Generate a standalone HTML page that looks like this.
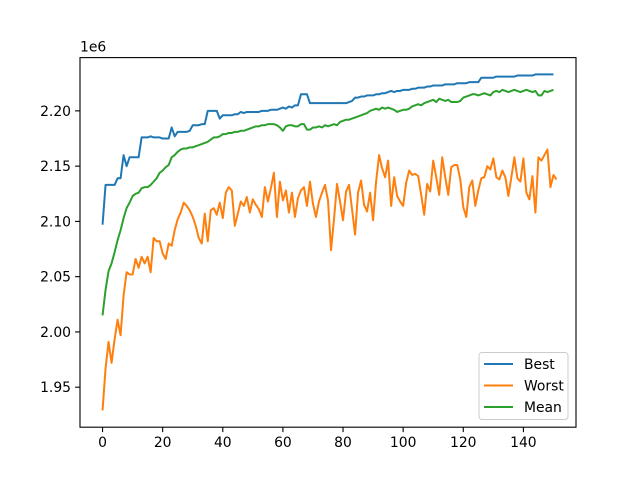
<!DOCTYPE html>
<html><head><meta charset="utf-8"><style>
body{margin:0;background:#fff;}
svg{display:block;font-family:"DejaVu Sans","Liberation Sans",sans-serif;}
</style></head><body>
<svg id="chart" width="640" height="480"></svg>
<script>
const best=[2.097,2.133,2.133,2.133,2.133,2.139,2.139,2.160,2.150,2.158,
2.158,2.158,2.158,2.176,2.176,2.176,2.177,2.176,2.176,2.176,
2.175,2.175,2.175,2.185,2.177,2.181,2.181,2.181,2.181,2.182,
2.187,2.187,2.187,2.188,2.188,2.200,2.200,2.200,2.200,2.193,
2.196,2.196,2.196,2.196,2.197,2.197,2.199,2.198,2.199,2.199,
2.199,2.199,2.199,2.200,2.200,2.200,2.201,2.201,2.201,2.202,
2.203,2.202,2.204,2.203,2.205,2.205,2.215,2.215,2.215,2.207,
2.207,2.207,2.207,2.207,2.207,2.207,2.207,2.207,2.207,2.207,
2.207,2.207,2.208,2.209,2.212,2.212,2.213,2.213,2.214,2.214,
2.214,2.215,2.215,2.216,2.216,2.217,2.218,2.217,2.218,2.218,
2.219,2.219,2.219,2.220,2.220,2.221,2.221,2.221,2.222,2.222,
2.223,2.223,2.223,2.223,2.224,2.224,2.224,2.224,2.225,2.225,
2.225,2.225,2.226,2.226,2.226,2.226,2.230,2.230,2.230,2.230,
2.230,2.231,2.231,2.231,2.231,2.231,2.231,2.231,2.232,2.232,
2.232,2.232,2.232,2.232,2.233,2.233,2.233,2.233,2.233,2.233,2.233];
const worst=[1.929,1.967,1.991,1.972,1.993,2.011,1.997,2.033,2.054,2.052,
2.052,2.066,2.058,2.068,2.062,2.068,2.054,2.085,2.082,2.082,
2.071,2.066,2.080,2.078,2.092,2.102,2.108,2.117,2.114,2.110,2.104,
2.096,2.085,2.080,2.107,2.082,2.110,2.112,2.106,2.117,2.103,
2.126,2.131,2.128,2.096,2.107,2.118,2.114,2.122,2.108,2.120,2.115,
2.111,2.104,2.131,2.118,2.130,2.144,2.104,2.136,2.119,2.128,
2.108,2.126,2.104,2.121,2.128,2.131,2.114,2.136,2.116,2.104,2.118,
2.126,2.133,2.119,2.074,2.102,2.134,2.118,2.101,2.127,2.133,
2.111,2.088,2.126,2.137,2.115,2.109,2.126,2.101,2.136,2.160,2.148,
2.140,2.155,2.114,2.140,2.123,2.118,2.114,2.135,2.146,2.142,
2.143,2.141,2.124,2.106,2.134,2.127,2.155,2.140,2.124,2.158,2.140,
2.124,2.149,2.151,2.151,2.138,2.113,2.104,2.131,2.137,2.114,2.128,
2.139,2.140,2.150,2.147,2.157,2.140,2.138,2.146,2.140,2.123,2.140,
2.158,2.139,2.136,2.157,2.126,2.120,2.141,2.108,2.158,2.155,2.160,
2.165,2.131,2.142,2.138];
const mean=[2.015,2.038,2.055,2.062,2.072,2.083,2.092,2.103,2.112,2.117,
2.123,2.125,2.126,2.130,2.131,2.131,2.133,2.136,2.139,2.144,
2.146,2.149,2.151,2.158,2.160,2.163,2.165,2.166,2.166,2.167,
2.167,2.168,2.169,2.170,2.171,2.172,2.174,2.176,2.176,2.177,
2.179,2.179,2.180,2.180,2.181,2.181,2.182,2.182,2.183,2.184,
2.185,2.186,2.186,2.187,2.187,2.188,2.188,2.188,2.187,2.185,
2.182,2.186,2.187,2.187,2.186,2.186,2.188,2.188,2.183,2.183,
2.185,2.185,2.186,2.185,2.187,2.186,2.187,2.188,2.187,2.190,
2.191,2.192,2.192,2.193,2.194,2.195,2.196,2.197,2.198,2.200,
2.201,2.202,2.201,2.203,2.202,2.203,2.202,2.201,2.199,2.200,
2.201,2.201,2.202,2.204,2.205,2.206,2.205,2.207,2.208,2.209,
2.210,2.208,2.211,2.210,2.209,2.210,2.208,2.208,2.208,2.209,
2.212,2.213,2.214,2.215,2.215,2.214,2.215,2.216,2.215,2.214,
2.217,2.218,2.217,2.219,2.218,2.217,2.218,2.219,2.218,2.217,
2.218,2.219,2.218,2.217,2.218,2.214,2.214,2.218,2.217,2.218,2.219];
const xTicks=[0,20,40,60,80,100,120,140];
const yTicks=[1.95,2.00,2.05,2.10,2.15,2.20];
const yTickLabels=["1.95","2.00","2.05","2.10","2.15","2.20"];
const seriesNames=["Best","Worst","Mean"];
const colors=["#1f77b4","#ff7f0e","#2ca02c"];

const L=80,R=576,T=57.6,B=427.2;
const n=best.length-1;
const xmin=-0.05*n, xmax=n*1.05;
const all=best.concat(worst,mean);
const dmin=Math.min(...all), dmax=Math.max(...all);
const ymin=dmin-0.05*(dmax-dmin), ymax=dmax+0.05*(dmax-dmin);
const sx=v=>L+(v-xmin)/(xmax-xmin)*(R-L);
const sy=v=>B-(v-ymin)/(ymax-ymin)*(B-T);
const svg=document.getElementById('chart');
const NS="http://www.w3.org/2000/svg";
function mk(tag,attrs,parent){const e=document.createElementNS(NS,tag);for(const k in attrs)e.setAttribute(k,attrs[k]);(parent||svg).appendChild(e);return e;}
const FS=13.9;

[best,worst,mean].forEach((s,i)=>{
  const p=mk('polyline',{points:s.map((v,j)=>sx(j).toFixed(2)+','+sy(v).toFixed(2)).join(' '),fill:'none',stroke:colors[i],'stroke-width':2,'stroke-linejoin':'round'});
  
  
});
const frame=mk('rect',{x:L,y:T,width:R-L,height:B-T,fill:'none',stroke:'#000','stroke-width':1.1});


xTicks.forEach(t=>{
  const x=sx(t);
  mk('line',{x1:x,x2:x,y1:B,y2:B+4.9,stroke:'#000','stroke-width':1.1});
  const tx=mk('text',{x:x,y:B+20,'font-size':FS,'text-anchor':'middle',fill:'#000'});
  tx.textContent=t;
  
  
});
yTicks.forEach((t,i)=>{
  const y=sy(t);
  mk('line',{x1:L-4.9,x2:L,y1:y,y2:y,stroke:'#000','stroke-width':1.1});
  const tx=mk('text',{x:L-9,y:y+5,'font-size':FS,'text-anchor':'end',fill:'#000'});
  tx.textContent=yTickLabels[i];
  
  
});
const off=mk('text',{x:L,y:T-6,'font-size':FS,fill:'#000'});
off.textContent='1e6';



const lg=mk('g',{});


mk('rect',{x:479,y:352.5,width:89,height:67,rx:3,fill:'#fff','fill-opacity':0.8,stroke:'#ccc','stroke-width':1},lg);
seriesNames.forEach((nm,i)=>{
  const y=364+i*21.5;
  const g=mk('g',{},lg);
  
  
  mk('line',{x1:484,x2:513,y1:y,y2:y,stroke:colors[i],'stroke-width':2},g);
  const t=mk('text',{x:524,y:y+5,'font-size':FS,fill:'#000'},g);
  t.textContent=nm;
});
</script>
</body></html>
